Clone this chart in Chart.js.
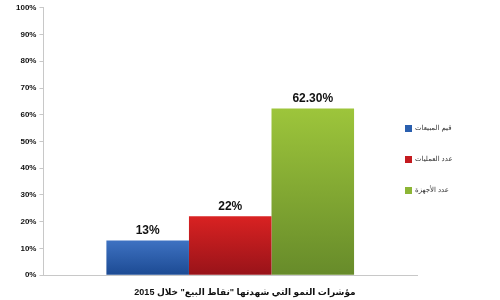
<!DOCTYPE html>
<html>
<head>
<meta charset="utf-8">
<script src="https://cdn.jsdelivr.net/npm/chart.js@4/dist/chart.umd.min.js"></script>
<style>
  html, body { margin: 0; padding: 0; background: #fff; }
  #wrap { width: 500px; height: 300px; }
</style>
</head>
<body>
<div id="wrap"><canvas id="grafico"></canvas></div>
<script>
// dados do gráfico
var categorias = [''];
var series = ['قيم المبيعات', 'عدد العمليات', 'عدد الأجهزة'];
var valores = [13, 22, 62.3];
var rotulos = ['13%', '22%', '62.30%'];
var ticksY = [0, 10, 20, 30, 40, 50, 60, 70, 80, 90, 100];
var titulo = 'مؤشرات النمو التي شهدتها "نقاط البيع" خلال 2015';

// cores (topo, base) de cada barra
var coresTopo = ['#3e72c2', '#d92222', '#9dc53b'];
var coresBase = ['#1c4a93', '#981319', '#678b2a'];
var coresLegenda = ['#2a5fae', '#c41a1f', '#8cb535'];

var fonte = "'Liberation Sans', 'DejaVu Sans', Arial, sans-serif";

function gradiente(i) {
  return function (ctx) {
    var chart = ctx.chart;
    if (!chart.chartArea) return coresLegenda[i];
    var y = chart.scales.y;
    var g = chart.ctx.createLinearGradient(0, y.getPixelForValue(valores[i]), 0, y.getPixelForValue(0));
    g.addColorStop(0, coresTopo[i]);
    g.addColorStop(1, coresBase[i]);
    return g;
  };
}

var datasets = [];
for (let i = 0; i < series.length; i++) {
  datasets.push({
    label: series[i],
    data: [valores[i]],
    backgroundColor: gradiente(i),
    borderWidth: 0,
    categoryPercentage: 0.663,
    barPercentage: 1
  });
}

// plugin simples para escrever o valor em cima de cada barra
const rotuloBarras = {
  id: 'rotuloBarras',
  afterDatasetsDraw(chart) {
    const ctx = chart.ctx;
    ctx.save();
    ctx.font = 'bold 12px ' + fonte;
    ctx.fillStyle = '#111';
    ctx.textAlign = 'center';
    ctx.textBaseline = 'bottom';
    chart.data.datasets.forEach((ds, i) => {
      const bar = chart.getDatasetMeta(i).data[0];
      ctx.fillText(rotulos[i], bar.x, bar.y - 4);
    });
    ctx.restore();
  }
};

// legenda desenhada à mão à direita do gráfico (quadrado + texto)
const legendaLateral = {
  id: 'legendaLateral',
  afterDraw(chart) {
    const ctx = chart.ctx;
    const x = chart.chartArea.right - 12;
    const y0 = 128.5;
    ctx.save();
    ctx.font = '7px ' + fonte;
    ctx.textBaseline = 'middle';
    chart.data.datasets.forEach((ds, i) => {
      const y = y0 + i * 31;
      ctx.fillStyle = coresLegenda[i];
      ctx.fillRect(x, y - 3.5, 7, 7);
      ctx.fillStyle = '#333';
      ctx.fillText(ds.label, x + 10, y);
    });
    ctx.restore();
  }
};

new Chart(document.getElementById('grafico'), {
  type: 'bar',
  data: { labels: categorias, datasets: datasets },
  plugins: [rotuloBarras, legendaLateral],
  options: {
    responsive: true,
    maintainAspectRatio: false,
    animation: false,
    layout: { padding: { left: 13, top: 4, right: 23, bottom: 0 } },
    scales: {
      x: {
        grid: { display: false, drawTicks: false },
        border: { color: '#c8c8c8', width: 1 },
        ticks: { display: false }
      },
      y: {
        min: 0,
        max: 100,
        afterBuildTicks: function (axis) { axis.ticks = ticksY.map(v => ({ value: v })); },
        grid: { drawOnChartArea: false, color: '#c8c8c8', tickLength: 4 },
        border: { color: '#c8c8c8', width: 1 },
        ticks: {
          padding: 3,
          color: '#111',
          font: { family: fonte, size: 8, weight: 'bold' },
          callback: v => v + '%'
        }
      },
      // eixo vazio só para reservar o espaço da legenda
      espaco: {
        position: 'right',
        grid: { display: false, drawTicks: false },
        border: { display: false },
        ticks: { display: false },
        afterFit: function (axis) { axis.width = 60; }
      }
    },
    plugins: {
      legend: { display: false },
      title: {
        display: true,
        position: 'bottom',
        text: titulo,
        color: '#111',
        font: { family: fonte, size: 9, weight: 'bold' },
        padding: { top: 12, bottom: 2 }
      },
      tooltip: { enabled: false }
    }
  }
});
</script>
</body>
</html>
